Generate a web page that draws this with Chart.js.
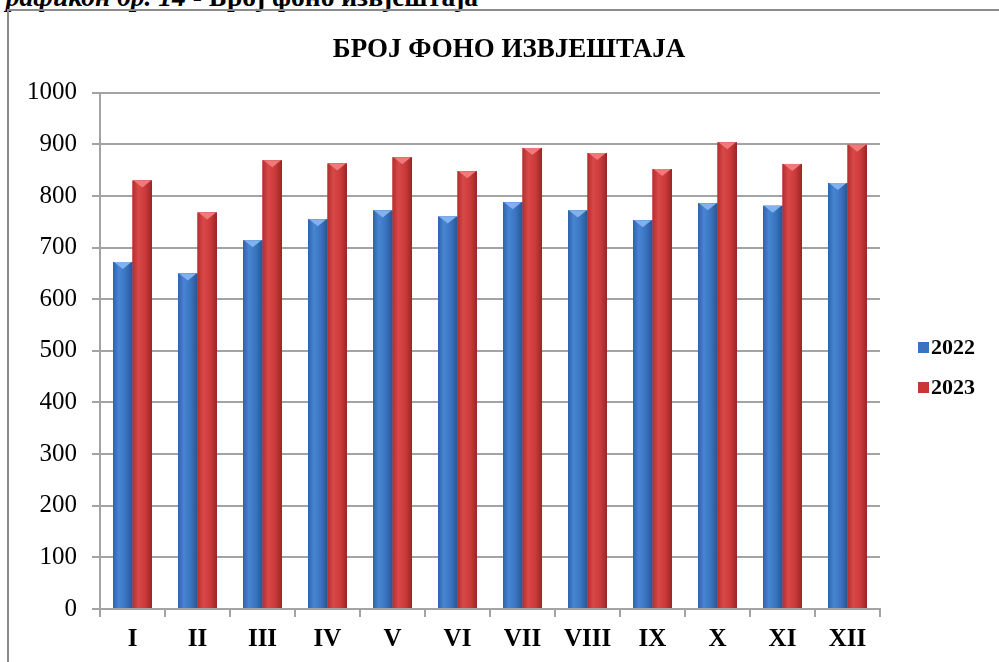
<!DOCTYPE html>
<html>
<head>
<meta charset="utf-8">
<script src="https://cdn.jsdelivr.net/npm/chart.js@4/dist/chart.umd.min.js"></script>
<style>
  html, body { margin: 0; padding: 0; background: #fff; overflow: hidden; width: 999px; height: 662px; }
  #caption {
    position: absolute; left: -10px; top: -17px; white-space: nowrap;
    font-family: 'Liberation Serif', 'Times New Roman', serif; font-size: 27.5px; line-height: 27px;
    font-weight: bold; color: #000;
  }
  #frame {
    position: absolute; left: 7px; top: 9px; width: 1010px; height: 680px;
    border: 2px solid #8c8c8c;
  }
</style>
</head>
<body>
<div id="caption"><i>Графикон бр. 14</i> - Број фоно извјештаја</div>
<div id="frame"><canvas id="fonoChart"></canvas></div>
<script>
const months = ['I', 'II', 'III', 'IV', 'V', 'VI', 'VII', 'VIII', 'IX', 'X', 'XI', 'XII'];
const values2022 = [672, 650, 714, 755, 772, 760, 788, 772, 753, 786, 781, 825];
const values2023 = [830, 768, 869, 863, 875, 848, 893, 883, 852, 904, 862, 899];
const seriesNames = ['2022', '2023'];

const serif = "'Liberation Serif', 'Times New Roman', serif";
const gridGrey = '#a3a3a3';

// shading for the bars, one set per series
const shades = [
  { base: '#3a74c0', stops: ['#2d62ab', '#4785d2', '#3a74c0', '#285594'], top: '#7fb2ee' },
  { base: '#c93636', stops: ['#b22e2e', '#d94848', '#cc3a3a', '#992626'], top: '#f07a7a' }
];

// paints a cylinder-ish gradient and a bevelled top over each bar
const barShading = {
  id: 'barShading',
  afterDatasetsDraw(chart) {
    const ctx = chart.ctx;
    chart.data.datasets.forEach((ds, di) => {
      const meta = chart.getDatasetMeta(di);
      const s = shades[di];
      meta.data.forEach(bar => {
        const left = bar.x - bar.width / 2;
        const right = bar.x + bar.width / 2;
        const g = ctx.createLinearGradient(left, 0, right, 0);
        g.addColorStop(0, s.stops[0]);
        g.addColorStop(0.3, s.stops[1]);
        g.addColorStop(0.65, s.stops[2]);
        g.addColorStop(1, s.stops[3]);
        ctx.save();
        ctx.fillStyle = g;
        ctx.fillRect(left, bar.y, bar.width, bar.base - bar.y);
        ctx.fillStyle = s.top;
        ctx.beginPath();
        ctx.moveTo(left + 1, bar.y);
        ctx.lineTo(right - 1, bar.y);
        ctx.lineTo(bar.x, bar.y + 7);
        ctx.closePath();
        ctx.fill();
        ctx.restore();
      });
    });
  }
};

// legend on the right, drawn by hand so the plot width stays fixed
const sideLegend = {
  id: 'sideLegend',
  afterDraw(chart) {
    const ctx = chart.ctx;
    const x = chart.chartArea.right + 38;
    const ys = [336, 376];
    ctx.save();
    ctx.font = 'bold 22px ' + serif;
    ctx.textBaseline = 'middle';
    chart.data.datasets.forEach((ds, i) => {
      ctx.fillStyle = shades[i].base;
      ctx.fillRect(x, ys[i] - 5, 11, 11);
      ctx.fillStyle = '#000';
      ctx.fillText(ds.label, x + 13, ys[i] + 1);
    });
    ctx.restore();
  }
};

new Chart(document.getElementById('fonoChart'), {
  type: 'bar',
  data: {
    labels: months,
    datasets: [
      { label: seriesNames[0], data: values2022, backgroundColor: shades[0].base },
      { label: seriesNames[1], data: values2023, backgroundColor: shades[1].base }
    ]
  },
  options: {
    responsive: true,
    maintainAspectRatio: false,
    animation: false,
    layout: { padding: { top: 4, left: 0, right: 10, bottom: 28 } },
    datasets: { bar: { categoryPercentage: 0.6, barPercentage: 1 } },
    plugins: {
      legend: { display: false },
      tooltip: { enabled: false },
      title: {
        display: true,
        text: 'БРОЈ ФОНО ИЗВЈЕШТАЈА',
        color: '#000',
        font: { family: serif, size: 27, weight: 'bold', lineHeight: 1.1 },
        padding: { top: 20, bottom: 28 }
      }
    },
    scales: {
      x: {
        grid: { drawOnChartArea: false, color: gridGrey, lineWidth: 2, tickLength: 8, offset: true },
        border: { color: gridGrey, width: 2 },
        ticks: { color: '#000', padding: 8, font: { family: serif, size: 25, weight: 'bold' } }
      },
      y: {
        min: 0,
        max: 1000,
        afterFit(scale) { scale.width = 91; },
        grid: { color: gridGrey, lineWidth: 2, tickLength: 8 },
        border: { color: gridGrey, width: 2 },
        ticks: {
          stepSize: 100, color: '#000', padding: 15,
          font: { family: serif, size: 25 },
          callback: v => String(v)
        }
      },
      // empty axis that keeps room for the legend on the right
      yLegend: {
        position: 'right',
        afterFit(scale) { scale.width = 129; },
        grid: { display: false },
        border: { display: false },
        ticks: { display: false }
      }
    }
  },
  plugins: [barShading, sideLegend]
});
</script>
</body>
</html>
